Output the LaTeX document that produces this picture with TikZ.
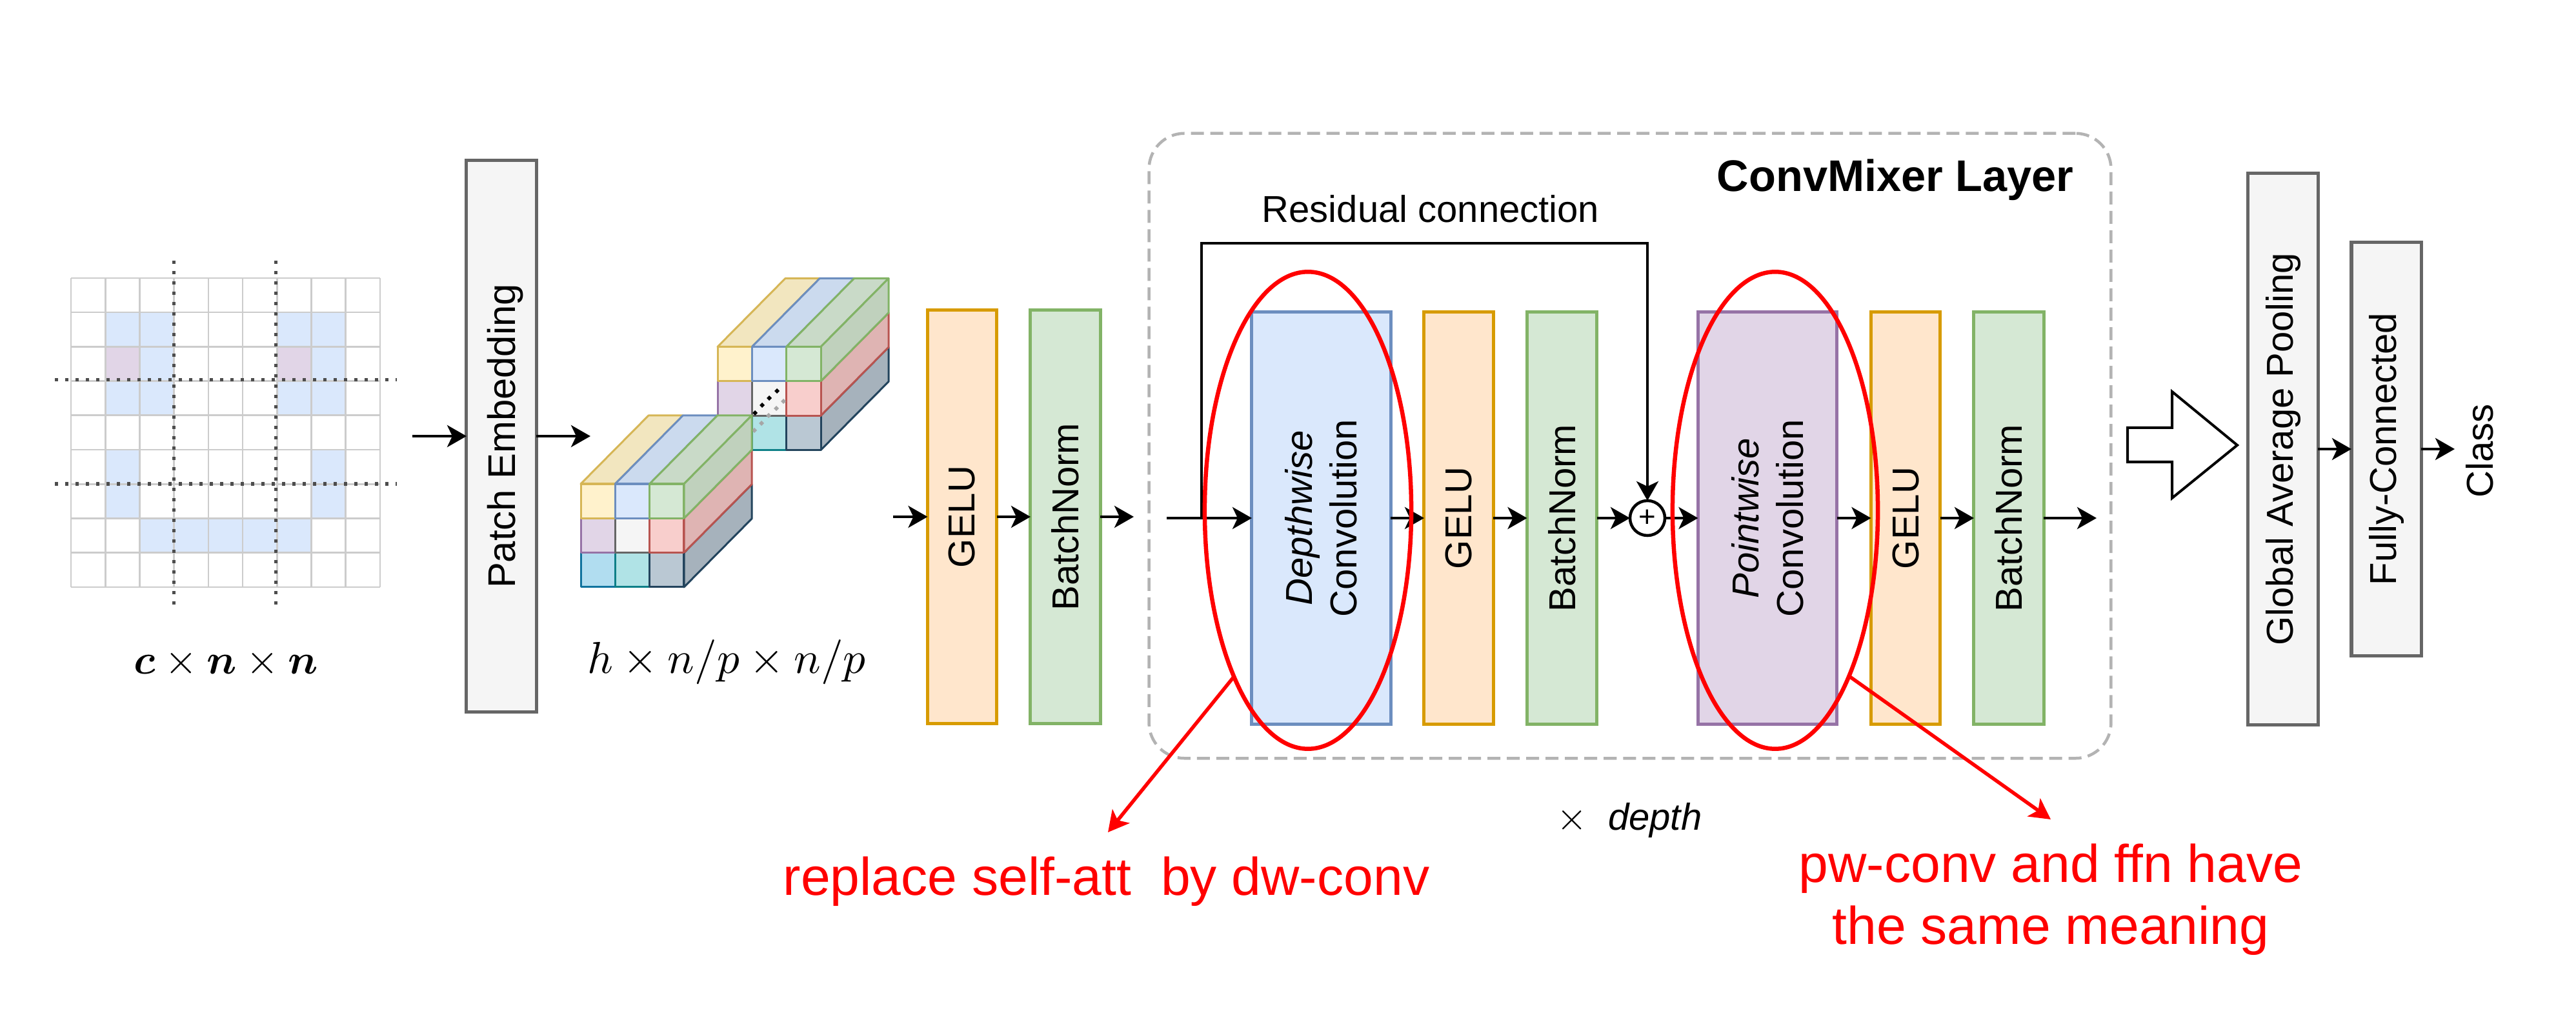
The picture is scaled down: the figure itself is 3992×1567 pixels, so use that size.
\documentclass[tikz,border=0pt]{standalone}
\usepackage{fontspec}
\setmainfont{Liberation Sans}
\usetikzlibrary{arrows.meta,shapes.geometric}
\def\pxu{0.28453pt}
\definecolor{Yf}{HTML}{FFF2CC}\definecolor{Ys}{HTML}{D6B656}\definecolor{Yt}{HTML}{F2E6BF}
\definecolor{Bf}{HTML}{DAE8FC}\definecolor{Bs}{HTML}{6C8EBF}\definecolor{Bt}{HTML}{CBDAEE}
\definecolor{Gf}{HTML}{D5E8D4}\definecolor{Gs}{HTML}{82B366}\definecolor{Gt}{HTML}{C9DAC8}\definecolor{Gr}{HTML}{C0D1BD}
\definecolor{Pf}{HTML}{E1D5E7}\definecolor{Ps}{HTML}{9673A6}
\definecolor{Wf}{HTML}{F5F5F5}\definecolor{Ws}{HTML}{666666}
\definecolor{Rf}{HTML}{F8CECC}\definecolor{Rs}{HTML}{B85450}\definecolor{Rr}{HTML}{DFB4B3}
\definecolor{Cf}{HTML}{B1DDF0}\definecolor{Cs}{HTML}{10739E}
\definecolor{Tf}{HTML}{B0E3E6}\definecolor{Ts}{HTML}{0E8088}
\definecolor{Df}{HTML}{BAC8D3}\definecolor{Ds}{HTML}{23445D}\definecolor{Dr}{HTML}{A6B2BC}
\definecolor{Of}{HTML}{FFE6CC}\definecolor{Os}{HTML}{D79B00}
\definecolor{gridc}{HTML}{CCCCCC}\definecolor{dotc}{HTML}{4D4D4D}\definecolor{dashc}{HTML}{B3B3B3}
\tikzset{
  x=0.01cm,y=-0.01cm,
  flow/.style={line width=4*\pxu,-{Stealth[length=30*\pxu,width=34*\pxu,inset=8*\pxu]},black},
  block/.style={draw,rotate=90,inner sep=0pt,outer sep=0pt,line width=5*\pxu,align=center,
    font=\fontsize{16.5}{19.6}\selectfont},
  graybox/.style={block,draw=Ws,fill=Wf},
  gelu/.style={block,draw=Os,fill=Of,minimum width=641*\pxu,minimum height=107*\pxu},
  bnorm/.style={block,draw=Gs,fill=Gf,minimum width=641*\pxu,minimum height=108*\pxu},
  dwconv/.style={block,draw=Bs,fill=Bf,minimum width=639*\pxu,minimum height=215*\pxu},
  pwconv/.style={block,draw=Ps,fill=Pf,minimum width=639*\pxu,minimum height=215*\pxu},
  layerbox/.style={draw=dashc,line width=4.5*\pxu,rounded corners=55*\pxu,dash pattern=on 20*\pxu off 10*\pxu,
    inner sep=0pt,outer sep=0pt,minimum width=1490*\pxu,minimum height=968*\pxu},
  plusnode/.style={circle,draw=black,fill=white,line width=4.5*\pxu,minimum size=54*\pxu,inner sep=0pt,outer sep=0pt,
    font=\fontsize{13}{13}\selectfont},
  redring/.style={ellipse,draw=red,line width=6.5*\pxu,minimum width=320*\pxu,minimum height=739*\pxu,inner sep=0pt,outer sep=0pt},
  redarrow/.style={draw=red,line width=5.5*\pxu,-{Stealth[length=32*\pxu,width=34*\pxu,inset=8*\pxu]},red},
  redtext/.style={text=red,font=\fontsize{23.4}{27.3}\selectfont,align=center,inner sep=0pt},
  plain16/.style={font=\fontsize{16.5}{19.6}\selectfont,inner sep=0pt},
  gridline/.style={draw=gridc,line width=2.6*\pxu},
  dotline/.style={draw=dotc,line width=5*\pxu,dash pattern=on 5*\pxu off 11*\pxu},
  facet/.style={line width=3*\pxu,line join=round},
}
\newcommand\brickat[2]{%
  \begin{scope}[shift={(#1,#2)}]
    \foreach \c/\f/\s in {0/Yt/Ys,1/Bt/Bs,2/Gt/Gs}{
      \filldraw[facet,fill=\f,draw=\s] ({\c*53.33},0) -- ++(105,-106) -- ++(53.33,0) -- ++(-105,106) -- cycle;}
    \foreach \r/\f/\s in {2/Dr/Ds,1/Rr/Rs,0/Gr/Gs}{
      \filldraw[facet,fill=\f,draw=\s] (160,{\r*53.33}) -- ++(105,-106) -- ++(0,53.33) -- ++(-105,106) -- cycle;}
    \foreach \c/\r/\f/\s in {0/2/Cf/Cs,1/2/Tf/Ts,2/2/Df/Ds,0/1/Pf/Ps,1/1/Wf/Ws,2/1/Rf/Rs,0/0/Yf/Ys,1/0/Bf/Bs,2/0/Gf/Gs}{
      \filldraw[facet,fill=\f,draw=\s] ({\c*53.33},{\r*53.33}) rectangle ++(53.33,53.33);}
  \end{scope}}
\begin{document}
\begin{tikzpicture}
\path[use as bounding box,fill=white] (0,0) rectangle (3992,1567);

% input image grid
\begin{scope}[shift={(110,431)}]
  \foreach \c/\r in {1/1,2/1,6/1,7/1,2/2,7/2,1/3,2/3,6/3,7/3,1/5,7/5,1/6,7/6,2/7,3/7,4/7,5/7,6/7}{
    \fill[Bf] ({\c*53.2},{\r*53.2}) rectangle ++(53.2,53.2);}
  \foreach \c/\r in {1/2,6/2}{
    \fill[Pf] ({\c*53.2},{\r*53.2}) rectangle ++(53.2,53.2);}
  \foreach \i in {0,...,9}{
    \draw[gridline] ({\i*53.2},0) -- ({\i*53.2},478.8);
    \draw[gridline] (0,{\i*53.2}) -- (478.8,{\i*53.2});}
\end{scope}
\draw[dotline] (269,404) -- (269,948);
\draw[dotline] (427,404) -- (427,948);
\draw[dotline] (85,589) -- (615,589);
\draw[dotline] (85,750) -- (615,750);
\node[scale=1.85,inner sep=0pt] (inlabel) at (350,1028) {$\mbox{\boldmath$c$}\times\mbox{\boldmath$n$}\times\mbox{\boldmath$n$}$};

% patch embedding
\coordinate (start) at (639,676);
\node[graybox,minimum width=854*\pxu,minimum height=108*\pxu,font=\fontsize{17}{20}\selectfont,text depth=0pt] (patch) at (777,676) {Patch Embedding};
\coordinate (patchend) at (915,676);
\draw[flow] (start) -- (patch.north);
\draw[flow] (patch.south) -- (patchend);

% patch stack
\brickat{1112}{537.5}
\foreach \x/\y in {1170/640,1181/628,1192/617,1204/606}{
  \fill[black] (\x-4,\y) -- (\x,\y-4) -- (\x+4,\y) -- (\x,\y+4) -- cycle;}
\foreach \x/\y in {1169/667,1180/656,1191/644,1203/633,1214/622}{
  \fill[gray!70] (\x-4,\y) -- (\x,\y-4) -- (\x+4,\y) -- (\x,\y+4) -- cycle;}
\brickat{900}{750}
\node[scale=1.97,inner sep=0pt] (stacklabel) at (1126,1026) {$h\times n/p\times n/p$};

% first GELU / BatchNorm
\coordinate (g1in) at (1384,801);
\node[gelu] (g1) at (1491,801) {GELU};
\node[bnorm] (b1) at (1651,801) {BatchNorm};
\coordinate (b1out) at (1757,801);
\draw[flow] (g1in) -- (g1.north);
\draw[flow] (g1.south) -- (b1.north);
\draw[flow] (b1.south) -- (b1out);

% ConvMixer layer
\node[layerbox] (layer) at (2526,691) {};
\node[inner sep=0pt,font=\fontsize{19.5}{22}\selectfont\bfseries] (layertitle) at (2937,279) {ConvMixer Layer};
\node[plain16] (restext) at (2217,324) {Residual connection};
\coordinate (layerin) at (1808,803);
\coordinate (resfork) at (1861.5,803);
\coordinate (restop) at (2553,377);
\node[dwconv] (dw) at (2047.5,803) {\textit{Depthwise}\\Convolution};
\node[gelu,minimum width=639*\pxu] (g2) at (2260.5,803) {GELU};
\node[bnorm,minimum width=639*\pxu] (b2) at (2420.5,803) {BatchNorm};
\node[plusnode] (plus) at (2553,803) {+};
\node[pwconv] (pw) at (2739,803) {\textit{Pointwise}\\Convolution};
\node[gelu,minimum width=639*\pxu] (g3) at (2953,803) {GELU};
\node[bnorm,minimum width=639*\pxu] (b3) at (3113,803) {BatchNorm};
\coordinate (layerout) at (3249,803);
\draw[flow] (resfork) |- (restop) -- (plus.north);
\draw[flow] (layerin) -- (dw.north);
\draw[flow] (dw.south) -- (g2.north);
\draw[flow] (g2.south) -- (b2.north);
\draw[flow] (b2.south) -- (plus.west);
\draw[flow] (plus.east) -- (pw.north);
\draw[flow] (pw.south) -- (g3.north);
\draw[flow] (g3.south) -- (b3.north);
\draw[flow] (b3.south) -- (layerout);
\node[plain16,anchor=base] (depthlabel) at (2525,1286) {$\times$\ \ \textit{depth}};

% block arrow
\draw[line width=4*\pxu,draw=black,fill=white,line join=miter] (3297,663) -- (3366,663) -- (3366,607) -- (3467,690) -- (3366,772) -- (3366,716) -- (3297,716) -- cycle;

% classifier
\node[graybox,minimum width=854*\pxu,minimum height=108*\pxu] (gap) at (3538,696) {Global Average Pooling};
\node[graybox,minimum width=640*\pxu,minimum height=108*\pxu] (fc) at (3698,696) {Fully-Connected};
\node[plain16,rotate=90] (cls) at (3843,699) {Class};
\coordinate (clsin) at (3804,696);
\draw[flow] (gap.south) -- (fc.north);
\draw[flow] (fc.south) -- (clsin);

% red annotations
\node[redring] (de) at (2027,791) {};
\node[redring,minimum width=318*\pxu] (pe) at (2751,791) {};
\coordinate (tipl) at (1717,1290);
\coordinate (tipr) at (3178,1270);
\draw[redarrow] (de.246) -- (tipl);
\draw[redarrow] (pe.294) -- (tipr);
\node[redtext,anchor=base] (note1) at (1714.5,1387) {replace self-att\ \ by dw-conv};
\node[redtext] (note2) at (3178,1394) {pw-conv and ffn have\\[0pt]the same meaning};
\end{tikzpicture}
\end{document}
